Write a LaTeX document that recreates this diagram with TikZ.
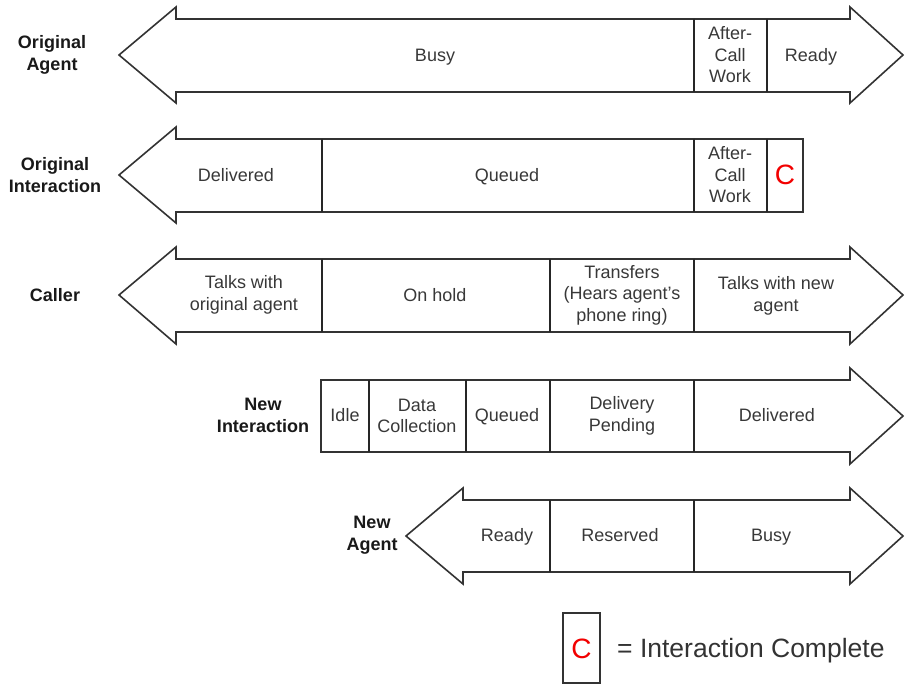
\documentclass[tikz,border=0pt]{standalone}
\usepackage{fontspec}
\setmainfont{Liberation Sans}
\begin{document}
\begin{tikzpicture}[x=1pt,y=-1pt,
  outline/.style={draw=black!80, line width=1.6pt, line join=miter},
  divider/.style={draw=black!85, line width=1.6pt},
  lbl/.style={font=\fontsize{18}{21.5}\selectfont, text=black!78, align=center, inner sep=0pt},
  oneline/.style={lbl, text height=13pt, text depth=0pt},
  rowlabel/.style={font=\fontsize{18}{22}\selectfont\bfseries, text=black!90, align=center, inner sep=0pt},
  cmark/.style={font=\fontsize{28}{30}\selectfont, text=red!95!black, inner sep=0pt}]

\useasboundingbox (0,0) rectangle (905,684);

% ---- Original Agent: double-headed arrow
\draw[outline] (119,55) -- (176,7) -- (176,19) -- (850,19) -- (850,7) -- (903,55)
  -- (850,103) -- (850,92) -- (176,92) -- (176,103) -- cycle;
\draw[divider] (694,19) -- (694,92) (767,19) -- (767,92);
\node[rowlabel] (oaLabel) at (52,55) {Original\\Agent};
\node[oneline] (oaBusy) at (435,55) {Busy};
\node[lbl] (oaAcw) at (730,55) {After-\\Call\\Work};
\node[oneline] (oaReady) at (811,55) {Ready};

% ---- Original Interaction: left-pointing arrow ending in a box
\draw[outline] (119,175) -- (176,127) -- (176,139) -- (803,139) -- (803,212)
  -- (176,212) -- (176,223) -- cycle;
\draw[divider] (322,139) -- (322,212) (694,139) -- (694,212) (767,139) -- (767,212);
\node[rowlabel] (oiLabel) at (55,175) {Original\\Interaction};
\node[oneline] (oiDelivered) at (236,175) {Delivered};
\node[oneline] (oiQueued) at (507,175) {Queued};
\node[lbl] (oiAcw) at (730,175) {After-\\Call\\Work};
\node[cmark] (oiDone) at (785,175) {C};

% ---- Caller: double-headed arrow
\draw[outline] (119,295) -- (176,247) -- (176,259) -- (850,259) -- (850,247) -- (903,295)
  -- (850,344) -- (850,332) -- (176,332) -- (176,344) -- cycle;
\draw[divider] (322,259) -- (322,332) (550,259) -- (550,332) (694,259) -- (694,332);
\node[rowlabel] (caLabel) at (55,295) {Caller};
\node[lbl] (caTalk) at (244,295) {Talks with\\original agent};
\node[oneline] (caHold) at (435,295) {On hold};
\node[lbl] (caXfer) at (622,295) {Transfers\\(Hears agent's\\phone ring)};
\node[lbl] (caNew) at (776,296) {Talks with new\\agent};

% ---- New Interaction: right-pointing arrow starting with a box
\draw[outline] (321,380) -- (850,380) -- (850,368) -- (903,416) -- (850,464)
  -- (850,452) -- (321,452) -- cycle;
\draw[divider] (369,380) -- (369,452) (466,380) -- (466,452) (550,380) -- (550,452)
  (694,380) -- (694,452);
\node[rowlabel] (niLabel) at (263,415) {New\\Interaction};
\node[oneline] (niIdle) at (345,415) {Idle};
\node[lbl] (niData) at (417,416) {Data\\Collection};
\node[oneline] (niQueued) at (507,415) {Queued};
\node[lbl] (niPending) at (622,416) {Delivery\\Pending};
\node[oneline] (niDelivered) at (777,415) {Delivered};

% ---- New Agent: double-headed arrow
\draw[outline] (406,536) -- (463,488) -- (463,500) -- (850,500) -- (850,488) -- (903,536)
  -- (850,584) -- (850,572) -- (463,572) -- (463,584) -- cycle;
\draw[divider] (550,500) -- (550,572) (694,500) -- (694,572);
\node[rowlabel] (naLabel) at (372,535) {New\\Agent};
\node[oneline] (naReady) at (507,535) {Ready};
\node[oneline] (naReserved) at (620,535) {Reserved};
\node[oneline] (naBusy) at (771,535) {Busy};

% ---- Legend
\draw[outline] (563,613) rectangle (600,683);
\node[cmark] (legC) at (581.5,649) {C};
\node[font=\fontsize{26.5}{30}\selectfont, text=black!80, anchor=west, inner sep=0pt]
  (legText) at (617,651) {= Interaction Complete};

\end{tikzpicture}
\end{document}
